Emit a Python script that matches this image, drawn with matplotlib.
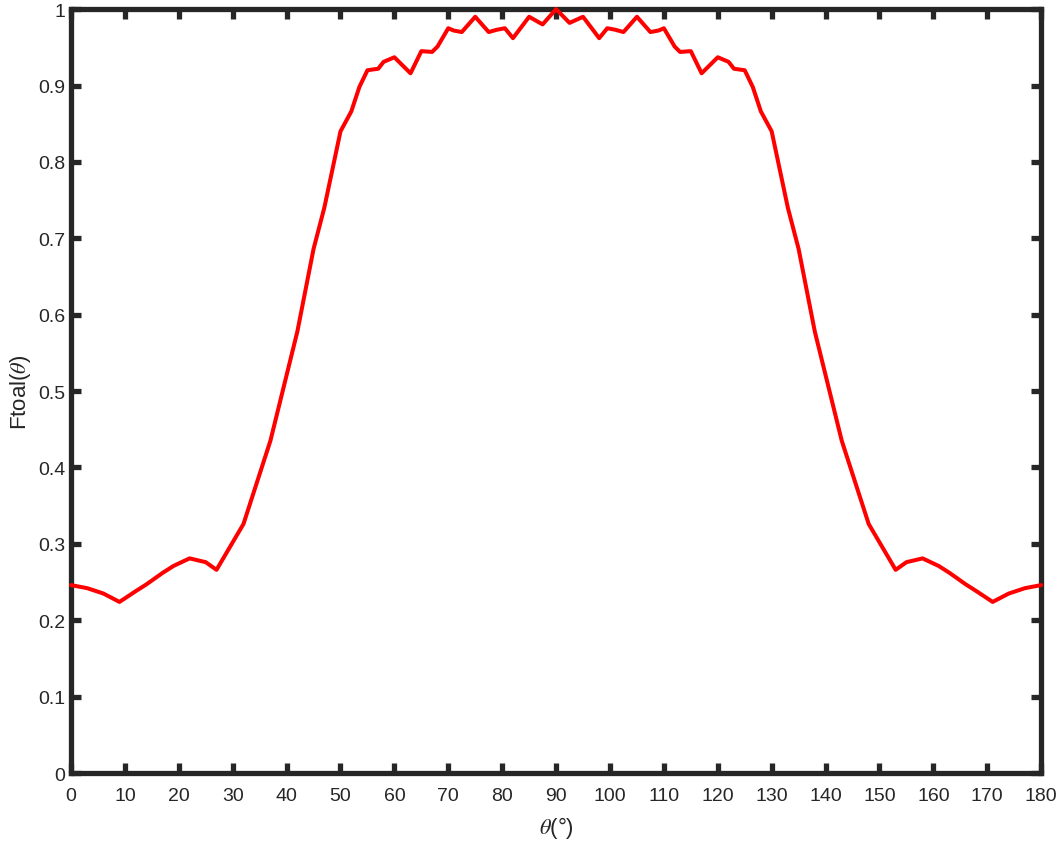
import matplotlib
matplotlib.use("Agg")
import matplotlib.pyplot as plt

theta = [0, 3, 6, 9, 12, 14, 17, 19, 22, 25, 27, 29, 32, 37, 42, 45, 47, 48.5, 50,
         52, 53.5, 55, 57, 58, 60, 63, 65, 67, 68, 70, 71, 72.5, 75, 77.5, 79, 80.5,
         82, 85, 87.5, 90,
         92.5, 95, 98, 99.5, 101, 102.5, 105, 107.5, 109, 110, 112, 113, 115, 117,
         120, 122, 123, 125, 126.5, 128, 130, 131.5, 133, 135, 138, 143, 148, 151,
         153, 155, 158, 161, 163, 166, 168, 171, 174, 177, 180]
ftotal = [0.246, 0.242, 0.235, 0.224, 0.238, 0.247, 0.262, 0.271, 0.281, 0.276,
          0.266, 0.290, 0.326, 0.435, 0.578, 0.686, 0.740, 0.790, 0.840,
          0.866, 0.898, 0.920, 0.922, 0.931, 0.937, 0.916, 0.945, 0.944, 0.951,
          0.975, 0.972, 0.970, 0.990, 0.970, 0.973, 0.975, 0.962, 0.990, 0.980, 1.0,
          0.982, 0.990, 0.962, 0.975, 0.973, 0.970, 0.990, 0.970, 0.972, 0.975,
          0.951, 0.944, 0.945, 0.916, 0.937, 0.931, 0.922, 0.920, 0.898, 0.866,
          0.840, 0.790, 0.740, 0.686, 0.578, 0.435, 0.326, 0.290, 0.266, 0.276,
          0.281, 0.271, 0.262, 0.247, 0.238, 0.224, 0.235, 0.242, 0.246]

xticks = list(range(0, 181, 10))
yticks = [0, 0.1, 0.2, 0.3, 0.4, 0.5, 0.6, 0.7, 0.8, 0.9, 1]
ytick_labels = ["0", "0.1", "0.2", "0.3", "0.4", "0.5", "0.6", "0.7", "0.8", "0.9", "1"]

plt.rcParams['font.family'] = ['Liberation Sans', 'DejaVu Sans']
plt.rcParams['mathtext.fontset'] = 'stix'

fig = plt.figure(figsize=(10.58, 8.45), dpi=100)
ax = fig.add_axes([0.0671, 0.084, 0.9170, 0.904])

ax.plot(theta, ftotal, color='#ff0000', linewidth=2.9, clip_on=False, zorder=5,
        solid_joinstyle='round', solid_capstyle='round')

ax.set_xlim(0, 180)
ax.set_ylim(0, 1)
ax.set_xticks(xticks)
ax.set_xticklabels([str(t) for t in xticks])
ax.set_yticks(yticks)
ax.set_yticklabels(ytick_labels)

edge = '#262626'
for sp in ax.spines.values():
    sp.set_linewidth(3.8)
    sp.set_color(edge)
ax.tick_params(direction='in', length=7, width=3.8, color=edge, top=True, right=True,
               labelsize=14, labelcolor='#262626')
ax.tick_params(axis='x', pad=10)
ax.tick_params(axis='y', pad=4)

ax.set_xlabel(r'$\theta$(°)', fontsize=16, color='#262626', labelpad=7)
ax.set_ylabel(r'Ftoal($\theta$)', fontsize=16, color='#262626', labelpad=4)

fig.savefig('out.png', dpi=100)
